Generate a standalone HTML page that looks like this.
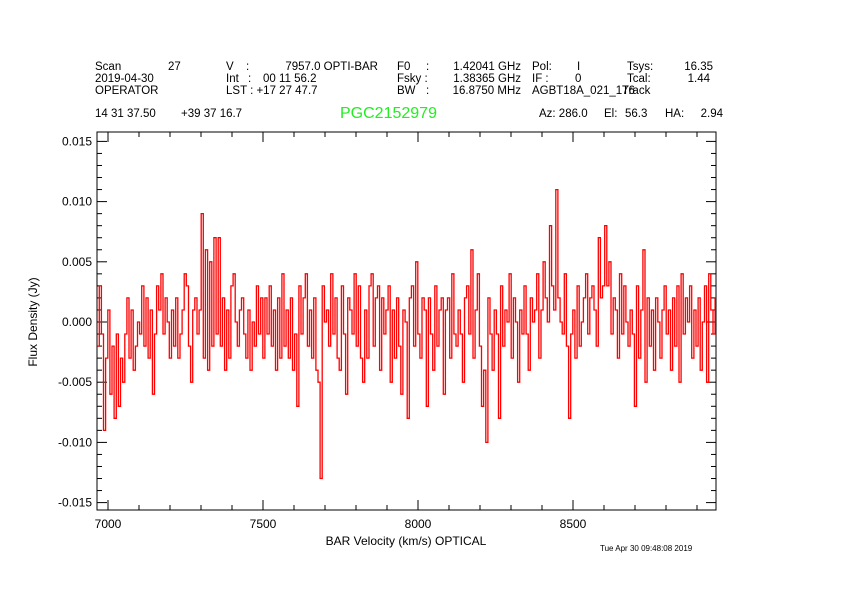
<!DOCTYPE html>
<html><head><meta charset="utf-8">
<style>
body{margin:0;background:#fff;width:842px;height:595px;overflow:hidden;font-family:"Liberation Sans",sans-serif;}
svg text{font-family:"Liberation Sans",sans-serif;}
</style></head>
<body>
<svg id="chart" width="842" height="595" xmlns="http://www.w3.org/2000/svg">
<g font-size="11.5" fill="#000">
<text x="95" y="70">Scan</text><text x="168" y="70">27</text>
<text x="95" y="82">2019-04-30</text>
<text x="95" y="94">OPERATOR</text>
<text x="226" y="70">V</text><text x="246" y="70">:</text><text x="378" y="70" text-anchor="end">7957.0 OPTI-BAR</text>
<text x="226" y="82">Int</text><text x="248" y="82">:</text><text x="263" y="82">00 11 56.2</text>
<text x="226" y="94">LST : +17 27 47.7</text>
<text x="397" y="70">F0</text><text x="426" y="70">:</text><text x="521" y="70" text-anchor="end">1.42041 GHz</text>
<text x="397" y="82">Fsky :</text><text x="521" y="82" text-anchor="end">1.38365 GHz</text>
<text x="397" y="94">BW</text><text x="426" y="94">:</text><text x="521" y="94" text-anchor="end">16.8750 MHz</text>
<text x="532" y="70">Pol:</text><text x="577" y="70">I</text>
<text x="532" y="82">IF :</text><text x="575" y="82">0</text>
<text x="532" y="94">AGBT18A_021_176</text><text x="622" y="94">Track</text>
<text x="627" y="70">Tsys:</text><text x="713" y="70" text-anchor="end">16.35</text>
<text x="627" y="82">Tcal:</text><text x="710" y="82" text-anchor="end">1.44</text>
<text x="95" y="117">14 31 37.50</text><text x="181" y="117">+39 37 16.7</text>
<text x="539" y="117">Az: 286.0</text><text x="604" y="117">El:</text><text x="625" y="117">56.3</text><text x="665" y="117">HA:</text><text x="723" y="117" text-anchor="end">2.94</text>
</g>
<text x="340" y="118" font-size="16" fill="#22ee22">PGC2152979</text>
<g id="axes"></g>
<path id="spec" fill="none" stroke="#ff0000" stroke-width="1.3"/>
<text x="406" y="545" font-size="12" text-anchor="middle">BAR Velocity (km/s) OPTICAL</text>
<text x="37" y="322" font-size="12" text-anchor="middle" transform="rotate(-90 37 322)">Flux Density (Jy)</text>
<text x="600" y="551" font-size="8">Tue Apr 30 09:48:08 2019</text>
</svg>
<script>
const xTicks=[7000,7500,8000,8500];
const yTicks=[-0.015,-0.010,-0.005,0.000,0.005,0.010,0.015];
const yTickLabels=["-0.015","-0.010","-0.005","0.000","0.005","0.010","0.015"];
const vStart=6965, vStep=6.85;
const fluxMJy=[-2,3,-1,-9,-3,1,-6,-2,-8,-1,
-7,-3,-5,-1,2,-3,1,-4,-2,0,
-1,3,-2,2,-3,1,-6,-1,3,1,
4,-1,2,0,-3,1,-2,2,-3,-1,
1,4,3,-2,-5,1,2,-1,1,9,
-3,6,-4,5,-2,7,-1,7,-2,2,
-4,1,-3,3,4,0,-2,1,2,-1,
-3,1,-4,0,-2,3,-1,2,-3,2,
-1,3,-2,1,-4,2,-3,4,-2,1,
-3,2,-4,-1,-7,3,-1,2,4,-2,
1,-3,2,-4,-5,-13,3,0,1,-2,
4,-1,2,-3,-4,3,-1,-6,2,1,
-1,4,-2,3,-3,-5,1,-3,3,4,
-2,2,3,-4,2,-1,1,3,-5,1,
-3,2,-2,-6,1,0,-8,2,3,-2,
5,-1,-3,2,1,-7,2,-1,-4,3,
-2,1,2,-6,1,2,-3,4,-1,-2,
1,-1,-5,2,3,-1,6,-3,1,4,
-2,-7,-4,-10,2,-1,-4,1,-1,-8,
3,-2,1,0,4,-3,2,0,-5,1,
-1,3,-1,-4,2,0,1,4,-3,1,
5,2,0,8,3,1,11,2,0,-1,
4,-2,-8,-1,1,-3,3,-2,0,2,
4,-1,2,3,1,-2,7,2,3,8,
3,5,-1,2,1,-3,4,-1,3,0,
-2,1,-1,-7,3,-3,1,6,-5,2,
-2,1,-4,2,0,-3,1,3,-1,1,
-4,2,-2,3,-5,4,-1,2,0,3,
-3,1,-2,2,-4,0,3,-5,4,1,
-1,2,-3,0,1];
const L=97,R=716,T=132,B=510;
const xv=v=>108+(v-7000)*155/500;
const yv=f=>322-f*60.2/0.005;
const NS="http://www.w3.org/2000/svg";
const ax=document.getElementById('axes');
function mk(tag,at){const e=document.createElementNS(NS,tag);for(const k in at)e.setAttribute(k,at[k]);ax.appendChild(e);return e;}
const frame=mk('rect',{x:L,y:T,width:R-L,height:B-T,fill:'none',stroke:'#000','stroke-width':1});


for(let v=6900;v<=9000;v+=100){const x=xv(v);if(x<L||x>R)continue;const maj=v%500===0;const len=maj?10:5;
mk('line',{x1:x,y1:B,x2:x,y2:B-len,stroke:'#000'});mk('line',{x1:x,y1:T,x2:x,y2:T+len,stroke:'#000'});}
xTicks.forEach(v=>{const t=mk('text',{x:xv(v),y:528,'font-size':12,'text-anchor':'middle'});t.textContent=v;

});
for(let i=-16;i<=16;i++){const f=i*0.001;const y=yv(f);if(y<T||y>B)continue;const maj=i%5===0;const len=maj?10:5;
mk('line',{x1:L,y1:y,x2:L+len,y2:y,stroke:'#000'});mk('line',{x1:R,y1:y,x2:R-len,y2:y,stroke:'#000'});}
yTicks.forEach((f,i)=>{const t=mk('text',{x:92,y:yv(f)+4,'font-size':12,'text-anchor':'end'});t.textContent=yTickLabels[i];

});
let d='';
fluxMJy.forEach((m,i)=>{const x0=Math.max(L,xv(vStart+i*vStep)),x1=Math.min(R,xv(vStart+(i+1)*vStep));if(x0>=R)return;const y=yv(m*0.001);
d+=(d===''?'M':'L')+x0.toFixed(1)+' '+y.toFixed(1)+'L'+x1.toFixed(1)+' '+y.toFixed(1);});
document.getElementById('spec').setAttribute('d',d);
</script>
</body></html>
